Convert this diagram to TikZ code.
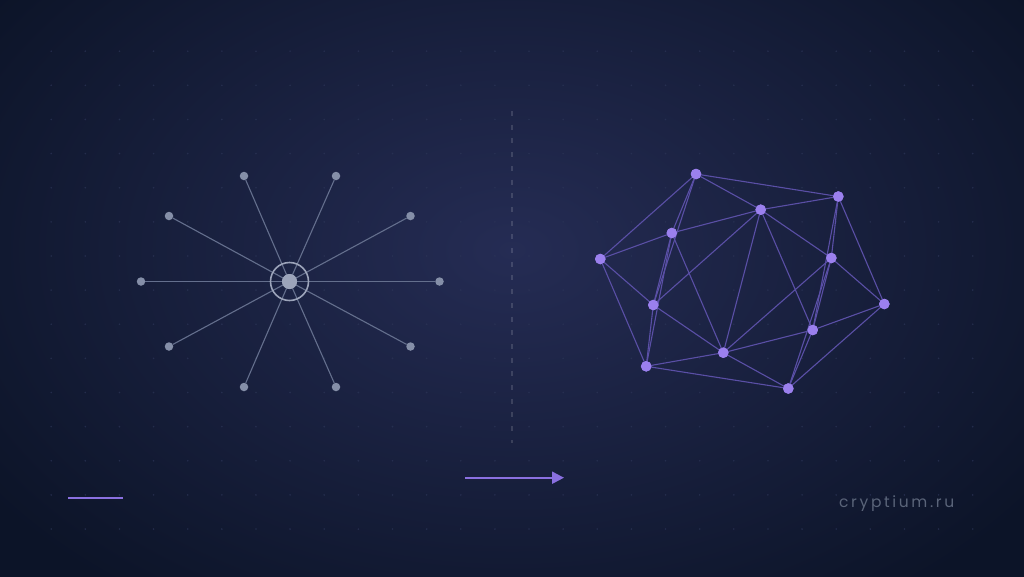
\documentclass[tikz,border=0pt]{standalone}
\usepackage{fontspec}
\newfontfamily\brandfont[LetterSpace=17]{Poppins}
\usetikzlibrary{arrows.meta}
\definecolor{bgout}{HTML}{0C1428}
\definecolor{bgin}{HTML}{252C54}
\definecolor{gridc}{HTML}{2C3557}
\definecolor{starline}{HTML}{646F8D}
\definecolor{stardot}{HTML}{858FA8}
\definecolor{starcore}{HTML}{9CA4BA}
\definecolor{netline}{HTML}{5A4FA6}
\definecolor{netnode}{HTML}{9B80EE}
\definecolor{accent}{HTML}{8A70E0}
\definecolor{brandc}{HTML}{5A6479}
\tikzset{
  stardotstyle/.style={circle,fill=stardot,inner sep=0pt,minimum size=8.5pt},
  corestyle/.style={circle,fill=starcore,inner sep=0pt,minimum size=15pt},
  ringstyle/.style={circle,draw=starcore,line width=1.6pt,inner sep=0pt,minimum size=38pt},
  spoke/.style={draw=starline,line width=1.1pt},
  netnodestyle/.style={circle,fill=netnode,inner sep=0pt,minimum size=10.5pt},
  netedge/.style={draw=netline,line width=1.1pt},
  accentline/.style={draw=accent,line width=2pt},
}
\begin{document}
\begin{tikzpicture}[x=1pt,y=-1pt]
\useasboundingbox (0,0) rectangle (1024,576);
% background
\fill[bgout] (-6,-6) rectangle (1030,582);
\begin{scope}
\clip (-6,-6) rectangle (1030,582);
\shade[inner color=bgin,outer color=bgout] (512,250) ellipse [x radius=640, y radius=430];
\end{scope}
% grid dots
\foreach \i in {0,...,27}{
  \foreach \j in {0,...,14}{
    \fill[gridc,opacity=0.7] ({51.2+34.13*\i},{51.2+34.13*\j}) circle (0.9);
  }
}
% divider
\coordinate (divtop) at (512,111);
\coordinate (divbot) at (512,443);
\draw[white,opacity=0.14,line width=1.4pt,dash pattern=on 5pt off 8.7pt] (divtop) -- (divbot);
% star
\node[corestyle] (c) at (289.5,281.5) {};
\node[stardotstyle] (s1) at (141,281.5) {};
\node[stardotstyle] (s2) at (439.5,281.5) {};
\node[stardotstyle] (s3) at (244,176) {};
\node[stardotstyle] (s4) at (336,176) {};
\node[stardotstyle] (s5) at (169,216) {};
\node[stardotstyle] (s6) at (410.5,216) {};
\node[stardotstyle] (s7) at (169,346.5) {};
\node[stardotstyle] (s8) at (410.5,346.5) {};
\node[stardotstyle] (s9) at (244,387) {};
\node[stardotstyle] (s10) at (336,387) {};
\foreach \s in {s1,s2,s3,s4,s5,s6,s7,s8,s9,s10}{
  \draw[spoke] (c.center) -- (\s);
}
\node[corestyle] at (c) {};
\node[ringstyle] (ring) at (c) {};
% network
\node[netnodestyle] (A) at (696,174) {};
\node[netnodestyle] (B) at (838.3,196.5) {};
\node[netnodestyle] (C) at (760.7,209.7) {};
\node[netnodestyle] (D) at (671.8,233) {};
\node[netnodestyle] (E) at (600.3,259) {};
\node[netnodestyle] (F) at (831.3,258) {};
\node[netnodestyle] (G) at (884.3,304) {};
\node[netnodestyle] (H) at (653.3,305) {};
\node[netnodestyle] (I) at (812.7,330) {};
\node[netnodestyle] (J) at (723.3,352.7) {};
\node[netnodestyle] (K) at (646.2,366.3) {};
\node[netnodestyle] (L) at (788.3,388.5) {};
\foreach \a/\b in {A/B,A/C,A/E,A/D,A/H,D/H,D/K,H/K,E/D,D/C,E/H,E/K,C/H,C/J,C/I,C/F,C/B,D/J,B/F,B/I,F/I,F/L,I/L,B/G,F/G,F/J,G/I,G/L,H/J,K/J,K/L,J/L,J/I}{
  \draw[netedge] (\a.center) -- (\b.center);
}
\foreach \n in {A,B,C,D,E,F,G,H,I,J,K,L}{
  \node[netnodestyle] at (\n) {};
}
% bottom marks
\coordinate (dashl) at (68,498);
\coordinate (dashr) at (123,498);
\draw[accentline] (dashl) -- (dashr);
\coordinate (arrl) at (465,477.7);
\coordinate (arrr) at (564,477.7);
\draw[accentline,-{Triangle[length=12pt,width=12pt]}] (arrl) -- (arrr);
% brand
\node[anchor=base west,inner sep=0pt,text=brandc,font=\brandfont\fontsize{15.5}{17}\selectfont] (brand) at (839,507.5) {cryptium.ru};
\end{tikzpicture}
\end{document}
